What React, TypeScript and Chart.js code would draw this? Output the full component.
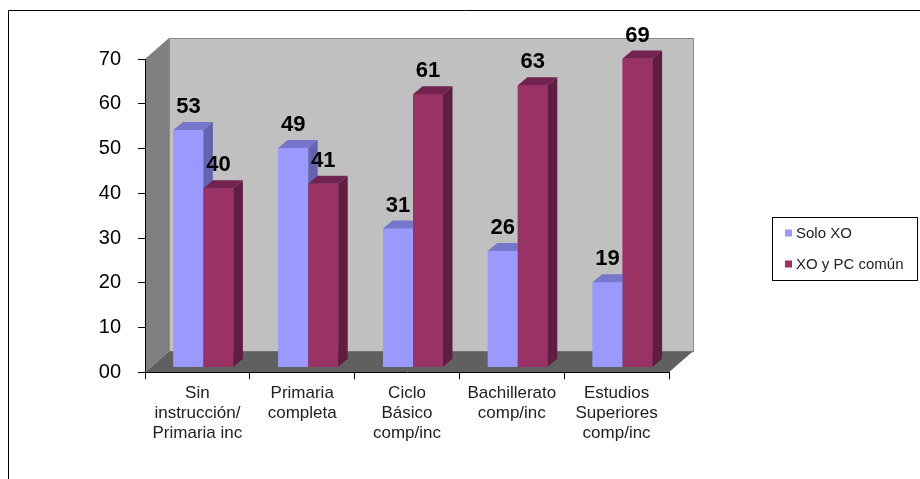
import React, { useEffect, useRef } from 'react';
import { Chart, registerables } from 'chart.js';

Chart.register(...registerables);

// ---- data ----
const categories: string[][] = [
  ['Sin', 'instrucción/', 'Primaria inc'],
  ['Primaria', 'completa'],
  ['Ciclo', 'Básico', 'comp/inc'],
  ['Bachillerato', 'comp/inc'],
  ['Estudios', 'Superiores', 'comp/inc'],
];
const seriesNames = ['Solo XO', 'XO y PC común'];
const soloXO = [53, 49, 31, 26, 19];
const xoYPc = [40, 41, 61, 63, 69];
const yTickLabels = ['00', '10', '20', '30', '40', '50', '60', '70'];

// ---- style ----
const FONT = "'Liberation Sans', Arial, sans-serif";
const FRONT = ['#9999FF', '#993366'];
const TOP = ['#7676CC', '#73234F'];
const SIDE = ['#6464AE', '#5E1D41'];
const BAR_SHIFT = [6, -5];
const BAR_DEPTH = [9.5, -8];
const WALL_DEPTH = [24, -21];

const threeD = {
  id: 'threeD',
  beforeDraw(chart: any) {
    const { ctx } = chart;
    const { left, right, top, bottom } = chart.chartArea;
    const [wx, wy] = WALL_DEPTH;
    ctx.save();
    // outer frame
    ctx.strokeStyle = '#000';
    ctx.lineWidth = 1;
    ctx.beginPath();
    ctx.moveTo(8.5, 479);
    ctx.lineTo(8.5, 10.5);
    ctx.lineTo(920, 10.5);
    ctx.stroke();
    // back wall
    ctx.fillStyle = '#C0C0C0';
    ctx.fillRect(left + wx, top + wy, right - left, bottom - top);
    ctx.strokeStyle = '#8A8A8A';
    ctx.strokeRect(left + wx + 0.5, top + wy + 0.5, right - left, bottom - top);
    // left wall
    ctx.fillStyle = '#808080';
    ctx.beginPath();
    ctx.moveTo(left, bottom);
    ctx.lineTo(left, top);
    ctx.lineTo(left + wx, top + wy);
    ctx.lineTo(left + wx, bottom + wy);
    ctx.closePath();
    ctx.fill();
    // floor
    ctx.fillStyle = '#606060';
    ctx.beginPath();
    ctx.moveTo(left, bottom);
    ctx.lineTo(left + wx, bottom + wy);
    ctx.lineTo(right + wx, bottom + wy);
    ctx.lineTo(right, bottom);
    ctx.closePath();
    ctx.fill();
    ctx.restore();
  },
  beforeDatasetsDraw(chart: any) {
    chart.ctx.save();
    chart.ctx.translate(BAR_SHIFT[0], BAR_SHIFT[1]);
  },
  afterDatasetsDraw(chart: any) {
    const ctx = chart.ctx;
    const [dx, dy] = BAR_DEPTH;
    const n = chart.data.labels.length;
    const nd = chart.data.datasets.length;
    for (let i = 0; i < n; i++) {
      for (let d = 0; d < nd; d++) {
        const el = chart.getDatasetMeta(d).data[i];
        el.draw(ctx);
        const { x, y, base, width } = el.getProps(['x', 'y', 'base', 'width'], true);
        const l = x - width / 2;
        const r = x + width / 2;
        // top face
        ctx.fillStyle = TOP[d];
        ctx.beginPath();
        ctx.moveTo(l, y);
        ctx.lineTo(l + dx, y + dy);
        ctx.lineTo(r + dx, y + dy);
        ctx.lineTo(r, y);
        ctx.closePath();
        ctx.fill();
        // side face
        ctx.fillStyle = SIDE[d];
        ctx.beginPath();
        ctx.moveTo(r, y);
        ctx.lineTo(r + dx, y + dy);
        ctx.lineTo(r + dx, base + dy);
        ctx.lineTo(r, base);
        ctx.closePath();
        ctx.fill();
      }
    }
    // value labels
    ctx.fillStyle = '#000';
    ctx.font = `bold 22px ${FONT}`;
    ctx.textAlign = 'center';
    ctx.textBaseline = 'middle';
    for (let d = 0; d < nd; d++) {
      const meta = chart.getDatasetMeta(d);
      meta.data.forEach((el: any, i: number) => {
        const { x, y } = el.getProps(['x', 'y'], true);
        ctx.fillText(String(chart.data.datasets[d].data[i]), x, y - 23);
      });
    }
    ctx.restore();
  },
  afterDraw(chart: any) {
    const ctx = chart.ctx;
    ctx.save();
    ctx.strokeStyle = '#000';
    ctx.lineWidth = 1;
    ctx.strokeRect(772.5, 217.5, 145, 63);
    ctx.font = `15px ${FONT}`;
    ctx.textAlign = 'left';
    ctx.textBaseline = 'middle';
    chart.data.datasets.forEach((ds: any, i: number) => {
      const cy = 233 + i * 31;
      ctx.fillStyle = ds.backgroundColor;
      ctx.fillRect(785, cy - 3.5, 7, 7);
      ctx.fillStyle = '#222';
      ctx.fillText(ds.label, 796, cy + 1);
    });
    ctx.restore();
  },
};

export default function App() {
  const ref = useRef<HTMLCanvasElement | null>(null);
  useEffect(() => {
    if (!ref.current) return;
    const chart = new Chart(ref.current, {
      type: 'bar',
      data: {
        labels: categories,
        datasets: [
          { label: seriesNames[0], data: soloXO, backgroundColor: FRONT[0], borderWidth: 0 },
          { label: seriesNames[1], data: xoYPc, backgroundColor: FRONT[1], borderWidth: 0 },
        ],
      },
      options: {
        responsive: false,
        animation: false,
        devicePixelRatio: 1,
        layout: { padding: { left: 10, right: 251, top: 59, bottom: 6.7 } },
        datasets: { bar: { categoryPercentage: 0.5725, barPercentage: 1, clip: false } as any },
        plugins: { legend: { display: false }, tooltip: { enabled: false } },
        scales: {
          x: {
            grid: { offset: true, drawOnChartArea: false, drawTicks: true, tickLength: 7, color: '#000' },
            border: { display: true, color: '#000', width: 1 },
            ticks: {
              font: { family: FONT, size: 17, lineHeight: 1.18 },
              color: '#222',
              padding: 4,
              maxRotation: 0,
              autoSkip: false,
            },
            afterFit: (s: any) => { s.height = 100; },
          },
          y: {
            min: 0,
            max: 70,
            grid: { drawOnChartArea: false, tickLength: 7, color: '#000' },
            border: { display: true, color: '#000', width: 1 },
            ticks: {
              stepSize: 10,
              font: { family: FONT, size: 20 },
              color: '#000',
              padding: 17,
              callback: (_v: any, i: number) => yTickLabels[i],
            },
            afterFit: (s: any) => { s.width = 135; },
          },
        },
      },
      plugins: [threeD],
    });
    return () => chart.destroy();
  }, []);
  return (
    <div style={{ position: 'absolute', left: 0, top: 0, width: 920, height: 479, background: '#fff' }}>
      <canvas ref={ref} width={920} height={479} />
    </div>
  );
}
